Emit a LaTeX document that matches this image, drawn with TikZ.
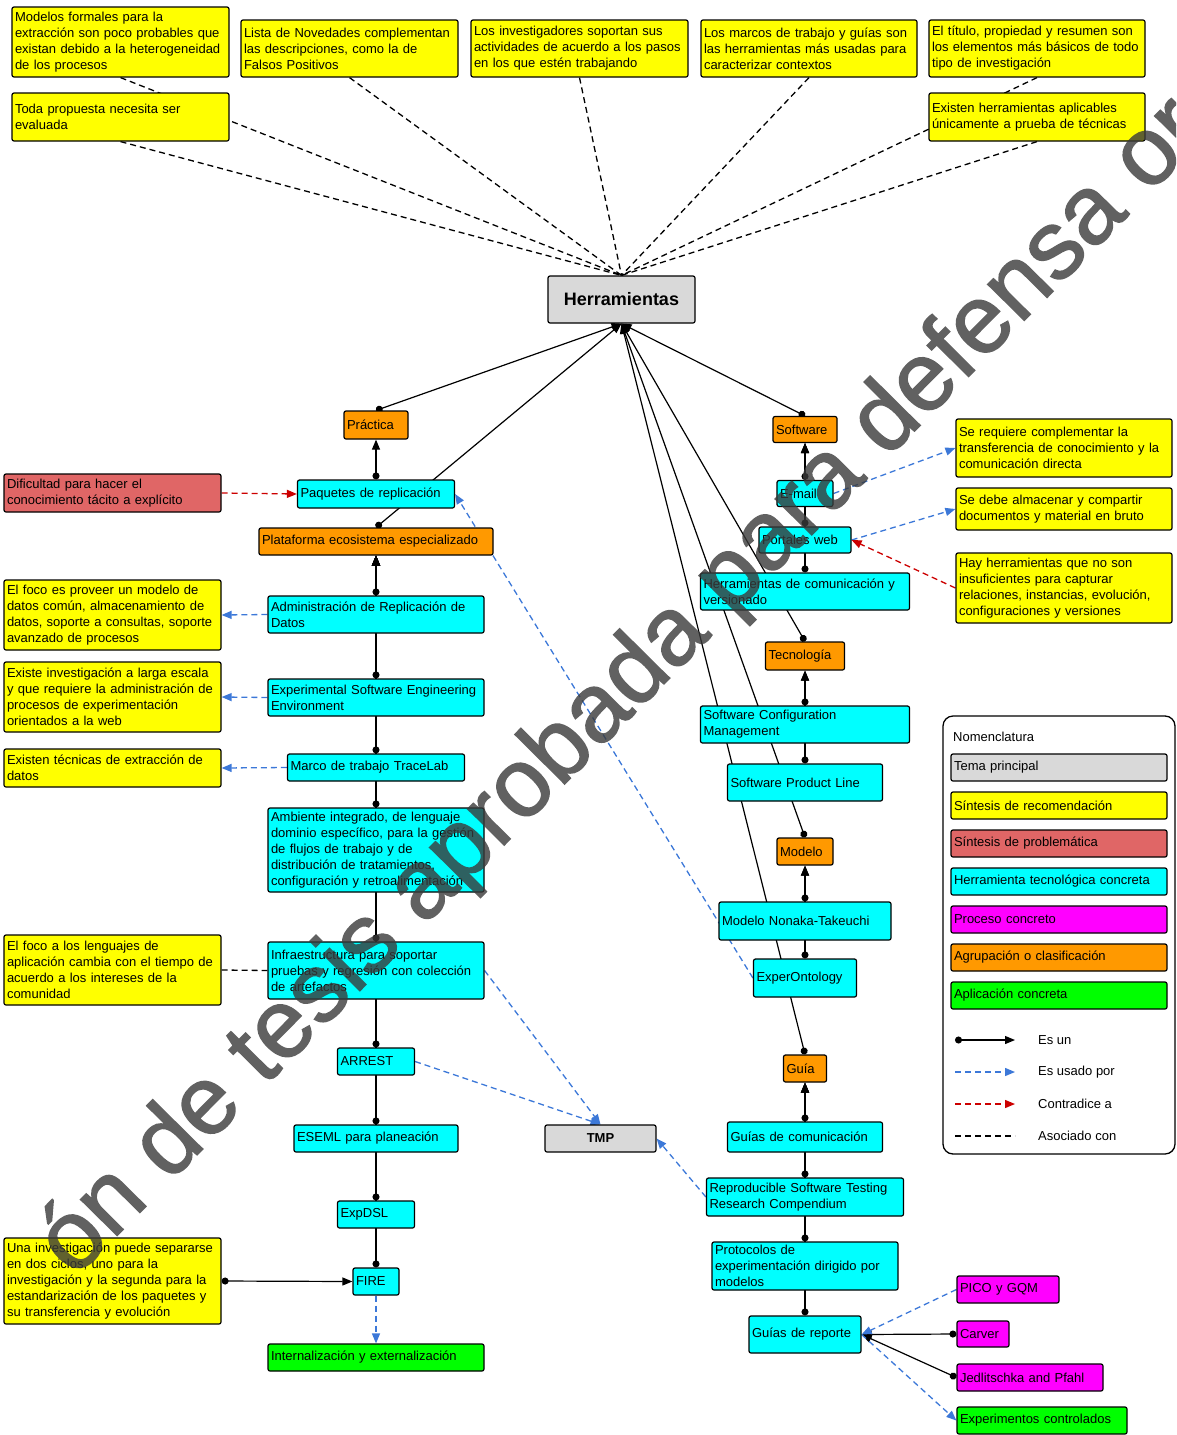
\documentclass[tikz,border=0pt]{standalone}
\usepackage{fontspec}
\setmainfont{Liberation Sans}
\newfontfamily\marcafont[FakeBold=1.5]{Liberation Sans}
\usetikzlibrary{arrows.meta}

\definecolor{temagris}{HTML}{D9D9D9}
\definecolor{recamarillo}{HTML}{FFFF00}
\definecolor{problrojo}{HTML}{E06666}
\definecolor{herrcian}{HTML}{00FFFF}
\definecolor{procmagenta}{HTML}{FF00FF}
\definecolor{grupnaranja}{HTML}{FF9900}
\definecolor{aplicverde}{HTML}{00FF00}
\definecolor{usoazul}{HTML}{3C78D8}
\definecolor{contrarojo}{HTML}{CC0000}
\definecolor{marcagris}{HTML}{3A3A3A}

\pgfdeclarelayer{background}
\pgfsetlayers{background,main}

\tikzset{
  caja/.style={draw, line width=1.2pt, rounded corners=2pt, inner xsep=3pt, inner ysep=0pt,
    align=left, font=\fontsize{13}{16}\selectfont},
  tam/.style 2 args={minimum width=#1pt, minimum height=#2pt, text width=#1pt-6pt},
  tema/.style={caja, fill=temagris, align=center},
  recom/.style={caja, fill=recamarillo},
  problema/.style={caja, fill=problrojo},
  herram/.style={caja, fill=herrcian},
  proceso/.style={caja, fill=procmagenta},
  grupo/.style={caja, fill=grupnaranja},
  aplic/.style={caja, fill=aplicverde},
  esun/.style={line width=1.2pt, {Circle[length=7pt]}-{Triangle[length=10pt,width=8pt]}},
  usado/.style={line width=1.3pt, usoazul, dash pattern=on 6pt off 4pt, -{Triangle[length=10pt,width=8pt]}},
  contra/.style={line width=1.3pt, contrarojo, dash pattern=on 6pt off 4pt, -{Triangle[length=10pt,width=8pt]}},
  asoc/.style={line width=1.3pt, dash pattern=on 6pt off 4pt},
  leyenda/.style={draw, line width=1.3pt, rounded corners=10pt, fill=white},
  rotulo/.style={inner sep=0pt, anchor=west, font=\fontsize{13}{16}\selectfont},
  marca/.style={inner sep=0pt, anchor=base, rotate=45.25, font=\marcafont\fontsize{97}{97}\selectfont,
    text=marcagris}
}

\begin{document}
\begin{tikzpicture}[x=1pt, y=-1pt]
\useasboundingbox ( 0, 0 ) rectangle ( 1176, 1435 );

%% Tema principal
\node [tema, minimum width=147pt, minimum height=47pt, font=\fontsize{18}{20}\selectfont\bfseries] (herr) at ( 621.5, 299.5 ) {Herramientas};

%% Recomendaciones de arriba
\node [recom, tam={217}{70}] (modelos) at ( 120.5, 42 ) {Modelos formales para la\\extracción son poco probables que\\existan debido a la heterogeneidad\\de los procesos};
\node [recom, tam={217}{57}] (novedades) at ( 349.5, 48.5 ) {Lista de Novedades complementan\\las descripciones, como la de\\Falsos Positivos};
\node [recom, tam={217}{57}] (investigadores) at ( 579.5, 48.5 ) {Los investigadores soportan sus\\actividades de acuerdo a los pasos\\en los que estén trabajando};
\node [recom, tam={216}{57}] (marcos) at ( 809, 48.5 ) {Los marcos de trabajo y guías son\\las herramientas más usadas para\\caracterizar contextos};
\node [recom, tam={216}{57}] (titulo) at ( 1037, 48.5 ) {El título, propiedad y resumen son\\los elementos más básicos de todo\\tipo de investigación};
\node [recom, tam={217}{48}] (propuesta) at ( 120.5, 117 ) {Toda propuesta necesita ser\\evaluada};
\node [recom, tam={216}{48}] (aplicables) at ( 1037, 117 ) {Existen herramientas aplicables\\únicamente a prueba de técnicas};

%% Columna izquierda
\node [grupo, tam={64}{28}] (practica) at ( 376, 425 ) {Práctica};
\node [herram, tam={157}{28}] (paquetes) at ( 376, 494 ) {Paquetes de replicación};
\node [grupo, tam={234}{27}] (plataforma) at ( 376, 541.5 ) {Plataforma ecosistema especializado};
\node [herram, tam={216}{37}] (admin) at ( 376, 614.5 ) {Administración de Replicación de\\Datos};
\node [herram, tam={216}{37}] (esee) at ( 376, 697.5 ) {Experimental Software Engineering\\Environment};
\node [herram, tam={177}{27}] (tracelab) at ( 376, 767.5 ) {Marco de trabajo TraceLab};
\node [herram, tam={216}{84}] (ambiente) at ( 376, 850 ) {Ambiente integrado, de lenguaje\\dominio específico, para la gestión\\de flujos de trabajo y de\\distribución de tratamientos,\\configuración y retroalimentación};
\node [herram, tam={216}{57}] (infra) at ( 376, 970.5 ) {Infraestructura para soportar\\pruebas y regresión con colección\\de artefactos};
\node [herram, tam={77}{27}] (arrest) at ( 376, 1061.5 ) {ARREST};
\node [herram, tam={164}{27}] (eseml) at ( 376, 1138.5 ) {ESEML para planeación};
\node [herram, tam={77}{27}] (expdsl) at ( 376, 1214.5 ) {ExpDSL};
\node [herram, tam={46}{27}] (fire) at ( 376, 1281.5 ) {FIRE};
\node [aplic, tam={216}{27}] (internal) at ( 376, 1357.5 ) {Internalización y externalización};

%% Notas de la izquierda
\node [problema, tam={217}{38}] (dificultad) at ( 112.5, 493 ) {Dificultad para hacer el\\conocimiento tácito a explícito};
\node [recom, tam={217}{70}] (foco) at ( 112.5, 615 ) {El foco es proveer un modelo de\\datos común, almacenamiento de\\datos, soporte a consultas, soporte\\avanzado de procesos};
\node [recom, tam={217}{70}] (escala) at ( 112.5, 697 ) {Existe investigación a larga escala\\y que requiere la administración de\\procesos de experimentación\\orientados a la web};
\node [recom, tam={217}{38}] (tecnicas) at ( 112.5, 768 ) {Existen técnicas de extracción de\\datos};
\node [recom, tam={217}{70}] (lenguajes) at ( 112.5, 970 ) {El foco a los lenguajes de\\aplicación cambia con el tiempo de\\acuerdo a los intereses de la\\comunidad};
\node [recom, tam={217}{86}] (ciclos) at ( 112.5, 1281 ) {Una investigación puede separarse\\en dos ciclos, uno para la\\investigación y la segunda para la\\estandarización de los paquetes y\\su transferencia y evolución};

%% Columna derecha
\node [grupo, tam={64}{26}] (software) at ( 805, 429.5 ) {Software};
\node [herram, tam={56}{26}] (email) at ( 805, 493.5 ) {E-mail};
\node [herram, tam={92}{26}] (portales) at ( 805, 540 ) {Portales web};
\node [herram, tam={209}{37}] (hdc) at ( 805, 591.5 ) {Herramientas de comunicación y\\versionado};
\node [grupo, tam={79}{28}] (tecnologia) at ( 805, 656 ) {Tecnología};
\node [herram, tam={209}{37}] (scm) at ( 805, 724.5 ) {Software Configuration\\Management};
\node [herram, tam={155}{37}] (spl) at ( 805, 782.5 ) {Software Product Line};
\node [grupo, tam={56}{27}] (modelo) at ( 805, 851.5 ) {Modelo};
\node [herram, tam={172}{38}] (nonaka) at ( 805, 921 ) {Modelo Nonaka-Takeuchi};
\node [herram, tam={103}{38}] (experonto) at ( 805, 978 ) {ExperOntology};
\node [grupo, tam={43}{27}] (guia) at ( 805, 1068.5 ) {Guía};
\node [herram, tam={155}{30}] (guiacom) at ( 805, 1137 ) {Guías de comunicación};
\node [herram, tam={197}{38}] (compendium) at ( 805, 1197 ) {Reproducible Software Testing\\Research Compendium};
\node [herram, tam={186}{48}] (protocolos) at ( 805, 1266 ) {Protocolos de\\experimentación dirigido por\\modelos};
\node [herram, tam={112}{37}] (guiarep) at ( 805, 1334.5 ) {Guías de reporte};

\node [tema, minimum width=111pt, minimum height=27pt, font=\fontsize{13}{16}\selectfont\bfseries] (tmp) at ( 600.5, 1138.5 ) {TMP};

%% Notas de la derecha
\node [recom, tam={216}{58}] (complementar) at ( 1064, 448 ) {Se requiere complementar la\\transferencia de conocimiento y la\\comunicación directa};
\node [recom, tam={216}{42}] (almacenar) at ( 1064, 509 ) {Se debe almacenar y compartir\\documentos y material en bruto};
\node [recom, tam={216}{70}] (capturar) at ( 1064, 588 ) {Hay herramientas que no son\\insuficientes para capturar\\relaciones, instancias, evolución,\\configuraciones y versiones};

%% Procesos
\node [proceso, tam={102}{27}] (pico) at ( 1008, 1289.5 ) {PICO y GQM};
\node [proceso, tam={52}{26}] (carver) at ( 983, 1334 ) {Carver};
\node [proceso, tam={146}{27}] (jedlitschka) at ( 1030, 1377.5 ) {Jedlitschka and Pfahl};
\node [aplic, tam={170}{27}] (experimentos) at ( 1042, 1420.5 ) {Experimentos controlados};

%% Conectores
\begin{pgfonlayer}{background}
% Asociado con
\draw [asoc] (modelos.south) -- (herr.north);
\draw [asoc] (novedades.south) -- (herr.north);
\draw [asoc] (investigadores.south) -- (herr.north);
\draw [asoc] (marcos.south) -- (herr.north);
\draw [asoc] (titulo.south) -- (herr.north);
\draw [asoc] (propuesta.south) -- (herr.north);
\draw [asoc] (aplicables.south) -- (herr.north);
\draw [asoc] (lenguajes.east) -- (infra.west);

% Es un
\draw [esun] (practica.north) -- (herr.south);
\draw [esun] (plataforma.north) -- (herr.south);
\draw [esun] (software.north) -- (herr.south);
\draw [esun] (tecnologia.north) -- (herr.south);
\draw [esun] (modelo.north) -- (herr.south);
\draw [esun] (guia.north) -- (herr.south);
\draw [esun] (paquetes.north) -- (practica.south);
\draw [esun] (admin.north) -- (plataforma.south);
\draw [esun] (esee.north) -- (plataforma.south);
\draw [esun] (tracelab.north) -- (plataforma.south);
\draw [esun] (ambiente.north) -- (plataforma.south);
\draw [esun] (infra.north) -- (plataforma.south);
\draw [esun] (arrest.north) -- (plataforma.south);
\draw [esun] (eseml.north) -- (plataforma.south);
\draw [esun] (expdsl.north) -- (plataforma.south);
\draw [esun] (fire.north) -- (plataforma.south);
\draw [esun] (email.north) -- (software.south);
\draw [esun] (portales.north) -- (software.south);
\draw [esun] (hdc.north) -- (software.south);
\draw [esun] (scm.north) -- (tecnologia.south);
\draw [esun] (spl.north) -- (tecnologia.south);
\draw [esun] (nonaka.north) -- (modelo.south);
\draw [esun] (experonto.north) -- (modelo.south);
\draw [esun] (guiacom.north) -- (guia.south);
\draw [esun] (compendium.north) -- (guia.south);
\draw [esun] (protocolos.north) -- (guia.south);
\draw [esun] (guiarep.north) -- (guia.south);
\draw [esun] (ciclos.east) -- (fire.west);
\draw [esun] (carver.west) -- (guiarep.east);
\draw [esun] (jedlitschka.west) -- (guiarep.east);

% Es usado por
\draw [usado] (admin.west) -- (foco.east);
\draw [usado] (esee.west) -- (escala.east);
\draw [usado] (tracelab.west) -- (tecnicas.east);
\draw [usado] (experonto.west) -- (paquetes.east);
\draw [usado] (infra.east) -- (tmp.north);
\draw [usado] (arrest.east) -- (tmp.north);
\draw [usado] (compendium.west) -- (tmp.east);
\draw [usado] (fire.south) -- (internal.north);
\draw [usado] (email.east) -- (complementar.west);
\draw [usado] (portales.east) -- (almacenar.west);
\draw [usado] (pico.west) -- (guiarep.east);
\draw [usado] (guiarep.east) -- (experimentos.west);

% Contradice a
\draw [contra] (dificultad.east) -- (paquetes.west);
\draw [contra] (capturar.west) -- (portales.east);
\end{pgfonlayer}

%% Nomenclatura
\node [leyenda, minimum width=232pt, minimum height=438pt] (leyenda) at ( 1059, 935 ) {};
\node [rotulo] (nomenclatura) at ( 953, 737 ) {Nomenclatura};
\node [tema, tam={216}{27}, align=left] (ley1) at ( 1059, 767.5 ) {Tema principal};
\node [recom, tam={216}{27}] (ley2) at ( 1059, 805.5 ) {Síntesis de recomendación};
\node [problema, tam={216}{27}] (ley3) at ( 1059, 843.5 ) {Síntesis de problemática};
\node [herram, tam={216}{27}] (ley4) at ( 1059, 881.5 ) {Herramienta tecnológica concreta};
\node [proceso, tam={216}{27}] (ley5) at ( 1059, 919.5 ) {Proceso concreto};
\node [grupo, tam={216}{27}] (ley6) at ( 1059, 957.5 ) {Agrupación o clasificación};
\node [aplic, tam={216}{27}] (ley7) at ( 1059, 995.5 ) {Aplicación concreta};

\coordinate (esuna) at ( 955, 1040 );
\coordinate (esunb) at ( 1015, 1040 );
\coordinate (usadoa) at ( 955, 1072 );
\coordinate (usadob) at ( 1015, 1072 );
\coordinate (contraa) at ( 955, 1104 );
\coordinate (contrab) at ( 1015, 1104 );
\coordinate (asoca) at ( 955, 1136 );
\coordinate (asocb) at ( 1015, 1136 );
\draw [esun] (esuna) -- (esunb);
\draw [usado] (usadoa) -- (usadob);
\draw [contra] (contraa) -- (contrab);
\draw [asoc] (asoca) -- (asocb);
\node [rotulo] (esuntxt) at ( 1038, 1040 ) {Es un};
\node [rotulo] (usadotxt) at ( 1038, 1072 ) {Es usado por};
\node [rotulo] (contratxt) at ( 1038, 1104 ) {Contradice a};
\node [rotulo] (asoctxt) at ( 1038, 1136 ) {Asociado con};

%% Marca de agua
\begin{scope}[transparency group, opacity=0.8]
\clip ( 0, 0 ) rectangle ( 1176, 1435 );
\node [marca] (marca) at ( 642, 706 ) {ón de tesis aprobada para defensa or};
\end{scope}

\end{tikzpicture}
\end{document}
